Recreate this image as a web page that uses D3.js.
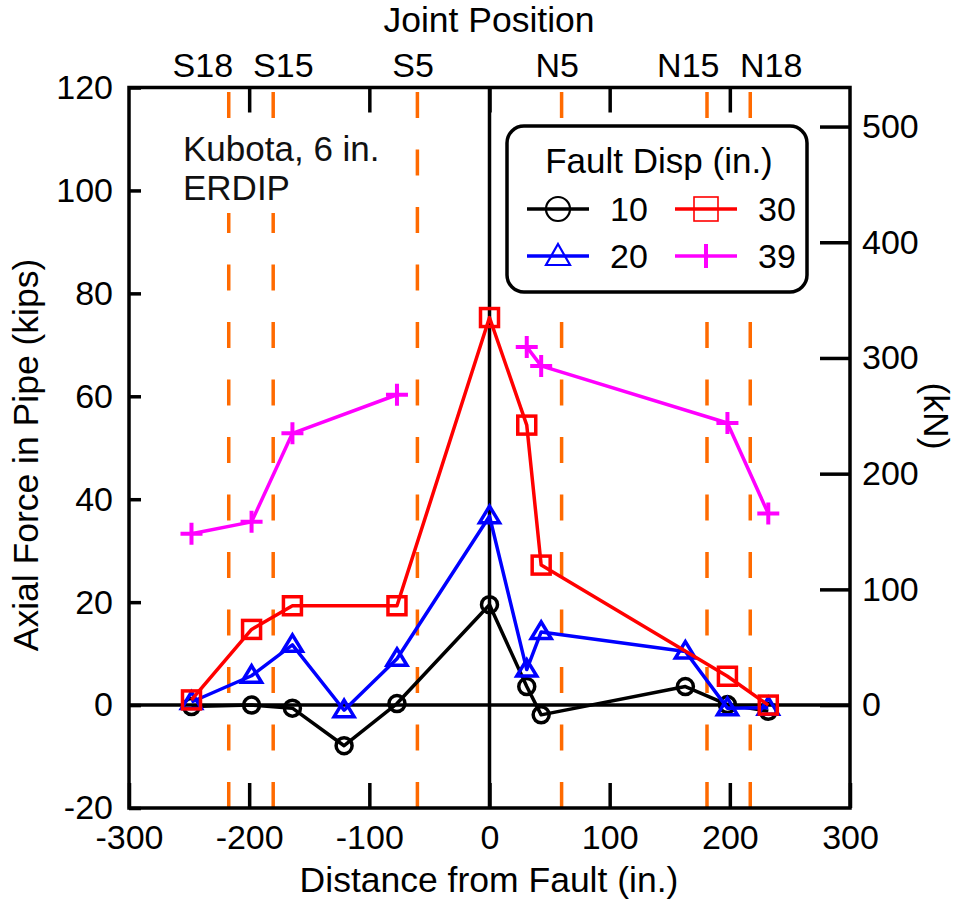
<!DOCTYPE html>
<html>
<head>
<meta charset="utf-8">
<script src="https://cdn.jsdelivr.net/npm/d3@7"></script>
<style>
  html, body { margin: 0; padding: 0; background: #fff; }
  svg { display: block; font-family: "Liberation Sans", Arial, Helvetica, sans-serif; }
</style>
</head>
<body>
<svg id="chart" width="974" height="904"></svg>
<script>
// ---------------- data ----------------
const xTickValues = [-300, -200, -100, 0, 100, 200, 300];
const yTickValues = [-20, 0, 20, 40, 60, 80, 100, 120];
const kNTickValues = [0, 100, 200, 300, 400, 500];
const jointLinePositions = [-217, -180, -60, 60, 181, 217];
const jointLabelPositions = [-239, -172, -64, 56, 165, 234];
const jointLabels = ["S18", "S15", "S5", "N5", "N15", "N18"];
const dispLevels = ["10", "20", "30", "39"];
const dispColors = ["#000000", "#0000ff", "#ff0000", "#ff00ff"];

const x10 = [-248, -198, -164, -121, -77, 0, 31, 43, 163, 198, 232];
const y10 = [-0.3, 0.0, -0.6, -7.9, 0.3, 19.5, 3.6, -1.9, 3.6, 0.1, -1.2];
const x20 = [-248, -198, -164, -121, -77, 0, 31, 43, 163, 198, 232];
const y20 = [0.6, 5.7, 11.7, -1.0, 9.0, 36.7, 6.9, 14.2, 10.4, -0.6, -0.5];
const x30 = [-248, -198, -164, -77, 0, 31, 43, 198, 232];
const y30 = [1.0, 14.7, 19.3, 19.3, 75.3, 54.4, 27.2, 5.6, 0.0];
const x39 = [-248, -198, -164, -77, 0, 31, 43, 198, 232];
const y39 = [33.3, 35.6, 52.8, 60.3, null, 69.6, 65.9, 54.8, 37.2];

const KIP_TO_KN = 4.448;

// ---------------- layout ----------------
const L = 129, R = 850, T = 87.5, B = 808;
const svg = d3.select("#chart");
const x = d3.scaleLinear().domain([-300, 300]).range([L, R]);
const y = d3.scaleLinear().domain([-20, 120]).range([B, T]);
const yk = d3.scaleLinear().domain([-20 * KIP_TO_KN, 120 * KIP_TO_KN]).range([B, T]);

const FS = 34;
const TFS = 35.5;
const SW = 3.5;

// joint dashed lines
svg.append("g").selectAll("line").data(jointLinePositions).join("line")
  .attr("x1", d => x(d)).attr("x2", d => x(d))
  .attr("y1", y(-20)).attr("y2", y(120))
  .attr("stroke", "#ff6a00").attr("stroke-width", 3.5)
  .attr("stroke-dasharray", "26,31.5");

// annotation (white background)
svg.append("rect").attr("x", 176).attr("y", 118).attr("width", 218).attr("height", 95).attr("fill", "#fff");
const ann = svg.append("text").attr("font-size", 35).attr("fill", "#111");
ann.append("tspan").attr("x", 183).attr("y", 161).text("Kubota, 6 in.");
ann.append("tspan").attr("x", 183).attr("y", 200).text("ERDIP");

// zero lines
svg.append("line").attr("x1", L).attr("x2", R).attr("y1", y(0)).attr("y2", y(0))
  .attr("stroke", "#000").attr("stroke-width", SW);
svg.append("line").attr("x1", x(0)).attr("x2", x(0)).attr("y1", T).attr("y2", B)
  .attr("stroke", "#000").attr("stroke-width", SW);

// axes
const fmt = d => String(d);
function styleAxis(g) {
  g.select(".domain").remove();
  g.selectAll(".tick line").attr("stroke", "#000").attr("stroke-width", SW);
  g.selectAll(".tick text").attr("font-size", FS).attr("fill", "#000")
    .attr("font-family", "Liberation Sans, Arial, sans-serif");
}
svg.append("g").attr("transform", `translate(0,${B})`)
  .call(d3.axisBottom(x).tickValues(xTickValues).tickSize(-25).tickPadding(17).tickFormat(fmt))
  .call(styleAxis);
svg.append("g").attr("transform", `translate(0,${T})`)
  .call(d3.axisTop(x).tickValues(xTickValues.slice(1, -1)).tickSize(-25).tickFormat(""))
  .call(styleAxis);
svg.append("g").attr("transform", `translate(0,${T})`)
  .call(d3.axisTop(x).tickValues(jointLabelPositions).tickSize(0).tickPadding(11)
    .tickFormat((d, i) => jointLabels[i]))
  .call(styleAxis);
svg.append("g").attr("transform", `translate(${L},0)`)
  .call(d3.axisLeft(y).tickValues(yTickValues).tickSize(-12).tickPadding(16).tickFormat(fmt))
  .call(styleAxis);
svg.append("g").attr("transform", `translate(${R},0)`)
  .call(d3.axisRight(yk).tickValues(kNTickValues).tickSize(-30).tickPadding(12).tickFormat(fmt))
  .call(styleAxis);

// frame
svg.append("rect").attr("x", L).attr("y", T).attr("width", R - L).attr("height", B - T)
  .attr("fill", "none").attr("stroke", "#000").attr("stroke-width", SW);

// titles
svg.append("text").attr("x", 489).attr("y", 32).attr("text-anchor", "middle")
  .attr("font-size", TFS).text("Joint Position");
svg.append("text").attr("x", 489).attr("y", 892).attr("text-anchor", "middle")
  .attr("font-size", TFS).text("Distance from Fault (in.)");
svg.append("text").attr("transform", "translate(38,455) rotate(-90)").attr("text-anchor", "middle")
  .attr("font-size", TFS).text("Axial Force in Pipe (kips)");
svg.append("text").attr("transform", "translate(924,416) rotate(90)").attr("text-anchor", "middle")
  .attr("font-size", TFS).text("(kN)");

// ---------------- series ----------------
const series = [
  { xs: x10, ys: y10 },
  { xs: x20, ys: y20 },
  { xs: x30, ys: y30 },
  { xs: x39, ys: y39 }
];
function drawMarker(g, idx) {
  const c = dispColors[idx];
  if (idx === 0) {
    g.append("circle").attr("r", 8).attr("fill", "none").attr("stroke", c).attr("stroke-width", SW);
  } else if (idx === 1) {
    g.append("path").attr("d", "M0,-10L10,6.5L-10,6.5Z")
      .attr("fill", "none").attr("stroke", c).attr("stroke-width", SW).attr("stroke-linejoin", "miter");
  } else if (idx === 2) {
    g.append("rect").attr("x", -9).attr("y", -9).attr("width", 18).attr("height", 18)
      .attr("fill", "none").attr("stroke", c).attr("stroke-width", SW);
  } else {
    g.append("path").attr("d", "M-11,0H11M0,-11V11")
      .attr("stroke", c).attr("stroke-width", 4);
  }
}

series.forEach((sr, i) => {
  const pts = sr.xs.map((xv, j) => ({ x: xv, y: sr.ys[j] }));
  const line = d3.line().defined(d => d.y !== null).x(d => x(d.x)).y(d => y(d.y));
  svg.append("path").datum(pts).attr("d", line)
    .attr("fill", "none").attr("stroke", dispColors[i]).attr("stroke-width", SW)
    .attr("stroke-linejoin", "round");
  pts.filter(d => d.y !== null).forEach(d => {
    const g = svg.append("g").attr("transform", `translate(${x(d.x)},${y(d.y)})`);
    drawMarker(g, i);
  });
});

// ---------------- legend ----------------
const lg = svg.append("g");
lg.append("rect").attr("x", 507).attr("y", 126).attr("width", 300).attr("height", 166)
  .attr("rx", 17).attr("ry", 17).attr("fill", "#fff").attr("stroke", "#000").attr("stroke-width", SW);
lg.append("text").attr("x", 659).attr("y", 173).attr("text-anchor", "middle")
  .attr("font-size", 35).text("Fault Disp (in.)");
const legendPos = [
  { lx: 527, ly: 209 }, { lx: 527, ly: 256 }, { lx: 675, ly: 209 }, { lx: 675, ly: 256 }
];
dispLevels.forEach((lab, i) => {
  const p = legendPos[i];
  lg.append("line").attr("x1", p.lx).attr("x2", p.lx + 62).attr("y1", p.ly).attr("y2", p.ly)
    .attr("stroke", dispColors[i]).attr("stroke-width", SW);
  const g = lg.append("g").attr("transform", `translate(${p.lx + 31},${p.ly})`);
  const c = dispColors[i];
  if (i === 0) g.append("circle").attr("r", 12).attr("fill", "none").attr("stroke", c).attr("stroke-width", 2.2);
  if (i === 1) g.append("path").attr("d", "M0,-12L12,9L-12,9Z").attr("fill", "none").attr("stroke", c).attr("stroke-width", 2.2);
  if (i === 2) g.append("rect").attr("x", -12).attr("y", -12).attr("width", 24).attr("height", 24)
    .attr("fill", "none").attr("stroke", c).attr("stroke-width", 1.6);
  if (i === 3) g.append("path").attr("d", "M0,-12V12").attr("stroke", c).attr("stroke-width", 4);
  lg.append("text").attr("x", p.lx + 83).attr("y", p.ly + 12).attr("font-size", FS).text(lab);
});
</script>
</body>
</html>
